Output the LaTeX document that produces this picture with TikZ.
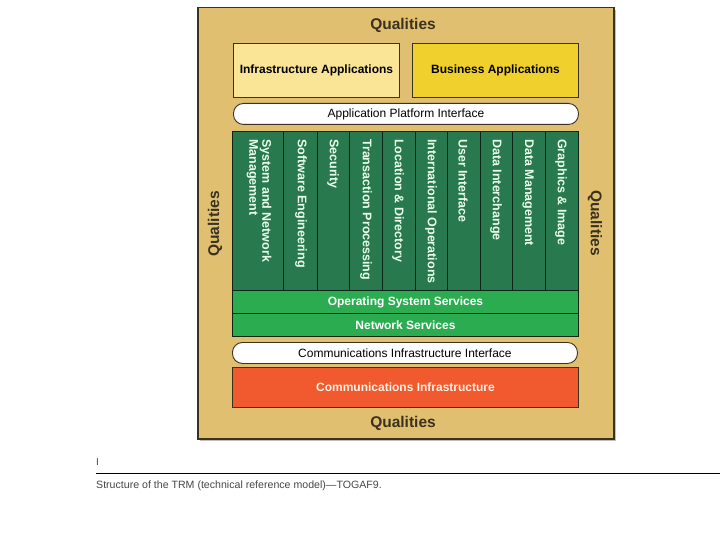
\documentclass[tikz,border=0pt]{standalone}
\usepackage{fontspec}
\setmainfont{Liberation Sans}

\definecolor{qualtan}{RGB}{224,191,112}
\definecolor{framebrown}{RGB}{58,50,30}
\definecolor{infrayellow}{RGB}{250,228,150}
\definecolor{bizyellow}{RGB}{240,208,44}
\definecolor{coldgreen}{RGB}{40,122,78}
\definecolor{osgreen}{RGB}{44,172,80}
\definecolor{commorange}{RGB}{240,90,46}
\definecolor{captiongray}{RGB}{70,70,70}

\begin{document}
\begin{tikzpicture}[x=1pt,y=-1pt,
	box/.style={draw=framebrown,line width=0.9pt,inner sep=0pt,anchor=north west},
	boldtext/.style={font=\bfseries\fontsize{12}{14}\selectfont},
	plaintext/.style={font=\fontsize{12}{14}\selectfont},
	colbox/.style={box,fill=coldgreen,draw=black!70!coldgreen,minimum height=159pt},
	collabel/.style={rotate=-90,anchor=west,inner sep=0pt,text=white!92!green,
		align=left,font=\bfseries\fontsize{12.5}{13}\selectfont},
	qualtext/.style={text=framebrown,font=\bfseries\fontsize{15.5}{17}\selectfont}]

	\useasboundingbox (0,0) rectangle (720,540);

	%Rahmen Qualities
	\fill[black!25] (200,10) rectangle (616,441);
	\node[box,fill=qualtan,line width=1.5pt,minimum width=416pt,minimum height=431pt]
		(frame) at (197,7) {};
	\node[qualtext] (qualtop) at (403,25) {Qualities};
	\node[qualtext] (qualbottom) at (403,423) {Qualities};
	\node[qualtext,rotate=90] (qualleft) at (215,224) {Qualities};
	\node[qualtext,rotate=-90] (qualright) at (595,223) {Qualities};

	%Anwendungen
	\node[box,boldtext,fill=infrayellow,minimum width=166pt,minimum height=54pt]
		(infraapps) at (233,43) {Infrastructure Applications};
	\node[box,boldtext,fill=bizyellow,minimum width=166pt,minimum height=54pt]
		(bizapps) at (412,43) {Business Applications};

	\node[box,plaintext,fill=white,rounded corners=10pt,minimum width=345pt,minimum height=21pt]
		(api) at (233,103) {Application Platform Interface};

	%Dienste (Spalten)
	\node[colbox,minimum width=51pt] (col1) at (232,131) {};
	\node[colbox,minimum width=34pt] (col2) at (283,131) {};
	\node[colbox,minimum width=32pt] (col3) at (317,131) {};
	\node[colbox,minimum width=33pt] (col4) at (349,131) {};
	\node[colbox,minimum width=33pt] (col5) at (382,131) {};
	\node[colbox,minimum width=32pt] (col6) at (415,131) {};
	\node[colbox,minimum width=33pt] (col7) at (447,131) {};
	\node[colbox,minimum width=32pt] (col8) at (480,131) {};
	\node[colbox,minimum width=33pt] (col9) at (512,131) {};
	\node[colbox,minimum width=33pt] (col10) at (545,131) {};

	\node[collabel] (lab1) at (259,139) {System and Network\\Management};
	\node[collabel] (lab2) at (301,139) {Software Engineering};
	\node[collabel] (lab3) at (333,139) {Security};
	\node[collabel] (lab4) at (366,139) {Transaction Processing};
	\node[collabel] (lab5) at (398,139) {Location \& Directory};
	\node[collabel] (lab6) at (431,139) {International Operations};
	\node[collabel] (lab7) at (463,139) {User Interface};
	\node[collabel] (lab8) at (496,139) {Data Interchange};
	\node[collabel] (lab9) at (528,139) {Data Management};
	\node[collabel] (lab10) at (561,139) {Graphics \& Image};

	\node[box,boldtext,text=white,fill=osgreen,draw=black!70!coldgreen,minimum width=346pt,minimum height=23pt]
		(ossvc) at (232,290) {Operating System Services};
	\node[box,boldtext,text=white,fill=osgreen,draw=black!70!coldgreen,minimum width=346pt,minimum height=23pt]
		(netsvc) at (232,313) {Network Services};

	%Kommunikation
	\node[box,plaintext,fill=white,rounded corners=10pt,minimum width=345pt,minimum height=21pt]
		(cii) at (232,342) {Communications Infrastructure Interface};
	\node[box,boldtext,text=white!90!orange,fill=commorange,minimum width=346pt,minimum height=40pt]
		(comminfra) at (232,367) {Communications Infrastructure};

	%Bildunterschrift
	\node[anchor=north west,inner sep=0pt,text=captiongray,font=\fontsize{10}{12}\selectfont]
		(mark) at (96,458) {I};
	\coordinate (rulestart) at (96,473);
	\coordinate (ruleend) at (720,473);
	\draw[line width=0.8pt] (rulestart) -- (ruleend);
	\node[anchor=base west,inner sep=0pt,text=captiongray,font=\fontsize{10.6}{12}\selectfont]
		(caption) at (96,488) {Structure of the TRM (technical reference model)---TOGAF9.};

\end{tikzpicture}
\end{document}
